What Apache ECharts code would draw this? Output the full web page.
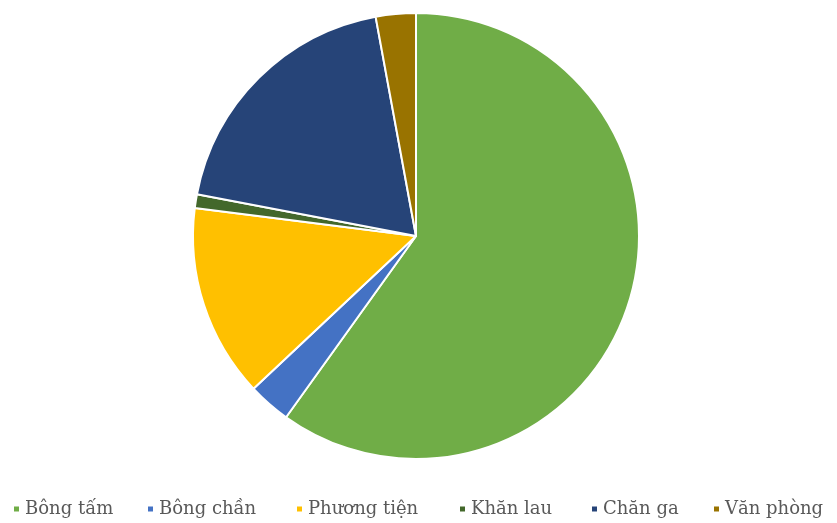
<!DOCTYPE html>
<html>
<head>
<meta charset="utf-8">
<script src="https://cdn.jsdelivr.net/npm/echarts@6/dist/echarts.min.js"></script>
<style>
html,body{margin:0;padding:0;background:#fff;}
#main{width:837px;height:523px;}
</style>
</head>
<body>
<div id="main"></div>
<script>
// slice names and shares (%)
var names = ['Bông tấm', 'Bông chần', 'Phương tiện', 'Khăn lau', 'Chăn ga', 'Văn phòng'];
var shares = [59.9, 3.1, 14.0, 1.0, 19.1, 2.9];
var colors = ['#70AD47', '#4472C4', '#FFC000', '#43682B', '#264478', '#997300'];
// where each legend entry starts
var legendLeft = [12, 146, 295, 458, 590, 712];

var chart = echarts.init(document.getElementById('main'));
var pieData = names.map(function (n, i) {
    return { name: n, value: shares[i] };
});

var legends = names.map(function (n, i) {
    return {
        data: [n],
        left: legendLeft[i],
        top: 500,
        padding: 0,
        icon: 'rect',
        itemWidth: 7,
        itemHeight: 7,
        textStyle: {
            fontFamily: 'DejaVu Serif',
            fontSize: 18,
            color: '#595959'
        }
    };
});

chart.setOption({
    animation: false,
    color: colors,
    legend: legends,
    series: [{
        type: 'pie',
        center: [416, 236],
        radius: 223,
        startAngle: 90,
        clockwise: true,
        label: { show: false },
        labelLine: { show: false },
        itemStyle: { borderColor: '#fff', borderWidth: 2 },
        data: pieData
    }]
});
</script>
</body>
</html>
